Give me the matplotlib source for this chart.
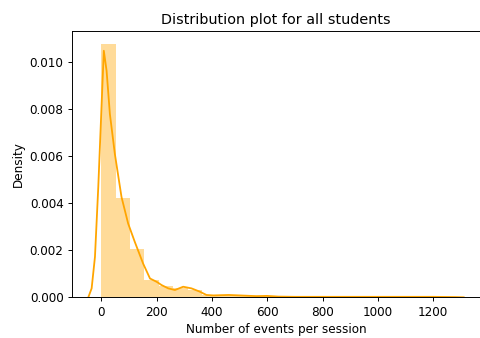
import matplotlib
matplotlib.use("Agg")
import matplotlib.pyplot as plt
import numpy as np

# histogram (density)
bin_edges = [0, 52, 104, 156, 208, 260, 312, 364, 416, 468, 520, 572, 624, 676,
             728, 780, 832, 884, 936, 988, 1040, 1092, 1144, 1196, 1248, 1300]
bin_density = [0.0108, 0.00424, 0.00204, 0.00072, 0.00050, 0.00038, 0.00030,
               0.00008, 0.00008, 0.00006, 0.00004, 0.00006, 0.00003, 0.00002,
               0.00002, 0.00002, 0.00002, 0.00002, 0.00002, 0.00002, 0.00002,
               0.00002, 0.00002, 0.00001, 0.00001]

# kde curve
kde_x = [-47, -35, -23, -11, 1, 9, 19, 31, 49, 73, 97, 121, 151, 176, 200, 218,
         242, 266, 296, 326, 356, 380, 405, 460, 500, 560, 600, 640, 700, 800,
         900, 1000, 1100, 1200, 1280, 1310]
kde_y = [0.0, 0.00038, 0.00172, 0.0047, 0.0082, 0.0105, 0.00965, 0.0078, 0.0061,
         0.00427, 0.00314, 0.00236, 0.00144, 0.0008, 0.00066, 0.00052, 0.00038,
         0.00031, 0.00045, 0.00038, 0.00024, 0.0001, 0.00008, 0.0001, 0.00008,
         0.00005, 0.00006, 0.00003, 0.00002, 0.00002, 0.00002, 0.00002, 0.00002,
         0.00002, 0.00001, 0.0]

dpi = 86.4  # fonts in the reference are ~1.2x the 72 dpi size
fig = plt.figure(figsize=(481/dpi, 338/dpi), dpi=dpi)
ax = fig.add_axes([72/481, 1 - 297.3/338, 408/481, (297.3 - 31)/338])

widths = np.diff(bin_edges)
ax.bar(bin_edges[:-1], bin_density, width=widths, align='edge',
       color='orange', alpha=0.4, linewidth=0)
ax.plot(kde_x, kde_y, color='orange', linewidth=1.5)

ax.set_xlim(-106, 1369)
ax.set_ylim(0, 0.01134)
ax.set_xticks([0, 200, 400, 600, 800, 1000, 1200])
ax.set_yticks([0.0, 0.002, 0.004, 0.006, 0.008, 0.010])
ax.yaxis.set_major_formatter(matplotlib.ticker.FormatStrFormatter('%.3f'))
ax.set_xlabel("Number of events per session")
ax.set_ylabel("Density")
ax.set_title("Distribution plot for all students")

fig.savefig("out.png", dpi=dpi)
